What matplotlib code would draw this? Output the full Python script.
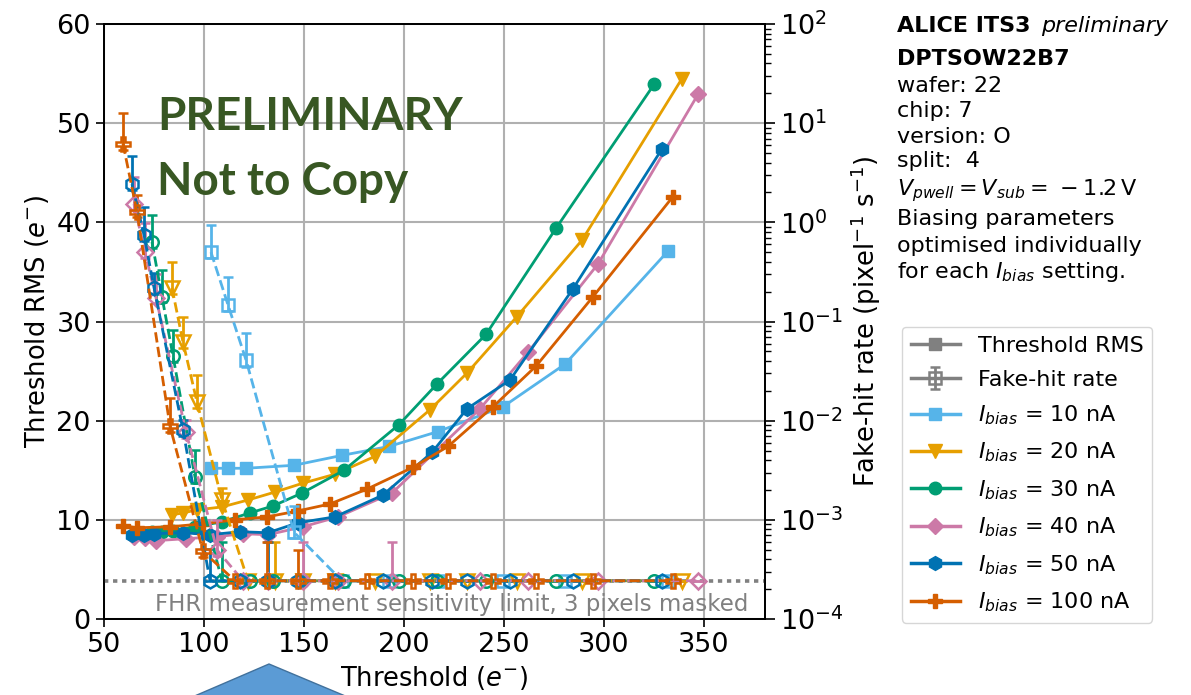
import numpy as np
import matplotlib
matplotlib.use("Agg")
import matplotlib.pyplot as plt
from matplotlib.lines import Line2D
from matplotlib.patches import Polygon

# -------------------------
# Data
# -------------------------
LIM = 2.43e-4  # FHR sensitivity limit, 3 pixels masked

labels = ["10 nA", "20 nA", "30 nA", "40 nA", "50 nA", "100 nA"]
colors = ["#56B4E9", "#E69F00", "#009E73", "#CC79A7", "#0072B2", "#D55E00"]
markers = ["s", "v", "o", "D", "h", "P"]

thr_10 = [103.5, 112, 121, 145, 169, 192.5, 217, 249.5, 280.5, 332]
rms_10 = [15.2, 15.2, 15.2, 15.5, 16.5, 17.4, 18.9, 21.4, 25.7, 37.1]
fhr_10 = [0.50, 0.147, 0.041, 7.5e-4, LIM, LIM, LIM, LIM, LIM, LIM]
fhr_lo_10 = [0.06, 0.02, 0.006, 1.0e-4, 0, 0, 0, 0, 0, 0]
fhr_hi_10 = [0.44, 0.134, 0.036, 6.3e-4, 0, 0, 0, 0, 0, 0]

thr_20 = [84, 89.5, 96.5, 109, 122, 135.5, 149.5, 165.5, 185.5, 213, 231.5, 256.5, 289, 339]
rms_20 = [10.5, 10.7, 11.0, 11.3, 12.0, 12.8, 13.7, 14.6, 16.4, 21.1, 24.8, 30.5, 38.2, 54.5]
fhr_20 = [0.218, 0.062, 0.0154, 1.58e-3, LIM, LIM, LIM, LIM, LIM, LIM, LIM, LIM, LIM, LIM]
fhr_lo_20 = [0.03, 0.008, 0.002, 2.0e-4, 0, 0, 0, 0, 0, 0, 0, 0, 0, 0]
fhr_hi_20 = [0.18, 0.049, 0.0136, 5.2e-4, 0, 3.5e-4, 0, 0, 0, 0, 0, 0, 0, 0]

thr_30 = [74, 79, 84.5, 95.5, 109, 123, 134.5, 149, 170, 197.5, 216.5, 241, 276, 325]
rms_30 = [8.8, 8.8, 8.9, 9.3, 9.8, 10.7, 11.4, 12.7, 15.0, 19.6, 23.7, 28.7, 39.4, 53.9]
fhr_30 = [0.634, 0.177, 0.0449, 2.7e-3, LIM, LIM, LIM, LIM, LIM, LIM, LIM, LIM, LIM, LIM]
fhr_lo_30 = [0.08, 0.02, 0.006, 3.5e-4, 0, 0, 0, 0, 0, 0, 0, 0, 0, 0]
fhr_hi_30 = [0.55, 0.15, 0.037, 2.4e-3, 3.5e-4, 0, 0, 0, 0, 0, 0, 0, 0, 0]

thr_40 = [65, 70.5, 76, 91, 106.5, 119.5, 132, 149.5, 167, 194, 238, 262, 297, 347]
rms_40 = [8.3, 8.2, 7.9, 8.1, 8.3, 8.6, 8.5, 9.3, 10.3, 12.7, 21.2, 26.9, 35.8, 52.9]
fhr_40 = [1.53, 0.50, 0.173, 7.7e-3, 4.97e-4, LIM, LIM, LIM, LIM, LIM, LIM, LIM, LIM, LIM]
fhr_lo_40 = [0.2, 0.06, 0.02, 1.0e-3, 7e-5, 0, 0, 0, 0, 0, 0, 0, 0, 0]
fhr_hi_40 = [1.35, 0.48, 0.13, 2.5e-3, 5.0e-4, 0, 0, 3.5e-4, 0, 3.5e-4, 0, 0, 0, 0]

thr_50 = [64, 70, 75, 89.5, 103, 118, 132, 147, 165.5, 189.5, 214, 231.5, 253, 284.5, 329]
rms_50 = [8.5, 8.5, 8.6, 8.7, 8.5, 8.8, 8.7, 9.7, 10.3, 12.5, 16.8, 21.2, 24.1, 33.3, 47.4]
fhr_50 = [2.43, 0.745, 0.22, 8.05e-3, LIM, LIM, LIM, LIM, LIM, LIM, LIM, LIM, LIM, LIM, LIM]
fhr_lo_50 = [0.3, 0.09, 0.03, 1.0e-3, 0, 0, 0, 0, 0, 0, 0, 0, 0, 0, 0]
fhr_hi_50 = [2.2, 0.69, 0.09, 2.2e-3, 2.6e-4, 0, 3.5e-4, 0, 0, 0, 0, 0, 0, 0, 0]

thr_100 = [59.5, 66.5, 83, 99.5, 115.5, 131.5, 147, 163, 181.5, 204.5, 222, 244.5, 266, 294.5, 334.5]
rms_100 = [9.4, 9.2, 9.3, 9.6, 10.0, 10.3, 10.9, 11.6, 13.1, 15.3, 17.4, 21.4, 25.5, 32.5, 42.6]
fhr_100 = [6.2, 1.27, 8.8e-3, 4.8e-4, LIM, LIM, LIM, LIM, LIM, LIM, LIM, LIM, LIM, LIM, LIM]
fhr_lo_100 = [0.8, 0.15, 1.1e-3, 6e-5, 0, 0, 0, 0, 0, 0, 0, 0, 0, 0, 0]
fhr_hi_100 = [6.4, 0.6, 8.1e-3, 4.1e-4, 0, 3.5e-4, 2.5e-4, 0, 0, 0, 0, 0, 0, 0, 0]

series = [
    (thr_10, rms_10, fhr_10, fhr_lo_10, fhr_hi_10),
    (thr_20, rms_20, fhr_20, fhr_lo_20, fhr_hi_20),
    (thr_30, rms_30, fhr_30, fhr_lo_30, fhr_hi_30),
    (thr_40, rms_40, fhr_40, fhr_lo_40, fhr_hi_40),
    (thr_50, rms_50, fhr_50, fhr_lo_50, fhr_hi_50),
    (thr_100, rms_100, fhr_100, fhr_lo_100, fhr_hi_100),
]

W, H = 1191, 695


def fx(px):
    return px / W


def fy(py):
    return 1 - py / H


# -------------------------
# Plot
# -------------------------
fig = plt.figure(figsize=(W / 100, H / 100), dpi=100)
ax = fig.add_axes([fx(104), fy(619), (765 - 104) / W, (619 - 24) / H])
ax2 = ax.twinx()

msizes = {"s": 9, "v": 10, "o": 9, "D": 8, "h": 10, "P": 10}

for (thr, rms, fhr, lo, hi), c, m in zip(series, colors, markers):
    ax.plot(thr, rms, marker=m, color=c, lw=2, ms=msizes[m], zorder=3)
    ax2.errorbar(thr, fhr, yerr=[lo, hi], fmt=m + "--", color=c, mfc="none",
                 mew=1.8, ms=msizes[m], lw=2, elinewidth=2, capsize=3.5,
                 capthick=2, zorder=3)

ax2.axhline(LIM, color="gray", lw=2.6, ls=(0, (1.2, 1.3)), zorder=1)

ax.set_xlim(50, 380.5)
ax.set_ylim(0, 60)
ax.set_xticks([50, 100, 150, 200, 250, 300, 350])
ax.set_yticks([0, 10, 20, 30, 40, 50, 60])
ax2.set_yscale("log")
ax2.set_ylim(1e-4, 1e2)

ax.grid(True, color="#b0b0b0", lw=1.5)
ax.set_axisbelow(True)

ax.tick_params(labelsize=19.5, width=1.2, length=6)
ax2.tick_params(which="major", labelsize=19.5, width=1.2, length=7)
ax2.tick_params(which="minor", width=1.0, length=4)
for a in (ax, ax2):
    for s in a.spines.values():
        s.set_linewidth(1.3)

ax.set_xlabel(r"Threshold ($e^{-}$)", fontsize=18.5)
ax.set_ylabel(r"Threshold RMS ($e^{-}$)", fontsize=18.5)
ax2.set_ylabel(r"Fake-hit rate (pixel$^{-1}$ s$^{-1}$)", fontsize=18.5)

fig.text(fx(748), fy(604), "FHR measurement sensitivity limit, 3 pixels masked",
         ha="right", va="center", color="gray", fontsize=16.5)

# watermark
fig.text(fx(157), fy(130), "PRELIMINARY", family=["Lato", "DejaVu Sans"],
         weight="bold", fontsize=33, color="#385723", va="baseline")
fig.text(fx(157), fy(195), "Not to Copy", family=["Lato", "DejaVu Sans"],
         weight="bold", fontsize=33, color="#385723", va="baseline")

# -------------------------
# Info text
# -------------------------
tx = fx(897)
fig.text(tx, fy(32), "ALICE ITS3", weight="bold", fontsize=16, va="baseline")
fig.text(fx(1041), fy(32), "preliminary", style="italic", fontsize=16, va="baseline")
fig.text(tx, fy(65), "DPTSOW22B7", weight="bold", fontsize=16, va="baseline")
info_lines = [
    (92, "wafer: 22"),
    (117, "chip: 7"),
    (143, "version: O"),
    (167, "split:  4"),
    (195, r"$V_{pwell} = V_{sub} = \,-1.2\,\mathrm{V}$"),
    (225, "Biasing parameters"),
    (252, "optimised individually"),
    (278, r"for each $I_{bias}$ setting."),
]
for py, s in info_lines:
    fig.text(tx, fy(py), s, fontsize=16, va="baseline")

# -------------------------
# Legend
# -------------------------
h_rms = Line2D([], [], color="gray", marker="s", lw=2.5, ms=9)
h_fhr = ax2.errorbar([np.nan], [np.nan], yerr=[[1], [1]], fmt="s-", color="gray",
                     mfc="none", mew=1.8, ms=9, lw=2.5, elinewidth=2, capsize=3.5)
handles = [h_rms, h_fhr]
names = ["Threshold RMS", "Fake-hit rate"]
for lab, c, m in zip(labels, colors, markers):
    handles.append(Line2D([], [], color=c, marker=m, lw=2.5, ms=msizes[m]))
    names.append(r"$I_{bias}$ = " + lab)

fig.legend(handles, names, loc="upper left", bbox_to_anchor=(fx(902), fy(327)),
           fontsize=16, handlelength=2.2, labelspacing=0.62, borderaxespad=0)

# blue arrow shape at the bottom
tri = Polygon([(fx(190), fy(698)), (fx(269), fy(664)), (fx(350), fy(698))],
              closed=True, transform=fig.transFigure, facecolor="#5B9BD5",
              edgecolor="#41719C", lw=1, clip_on=False)
fig.patches.append(tri)

fig.savefig("out.png", dpi=100)
